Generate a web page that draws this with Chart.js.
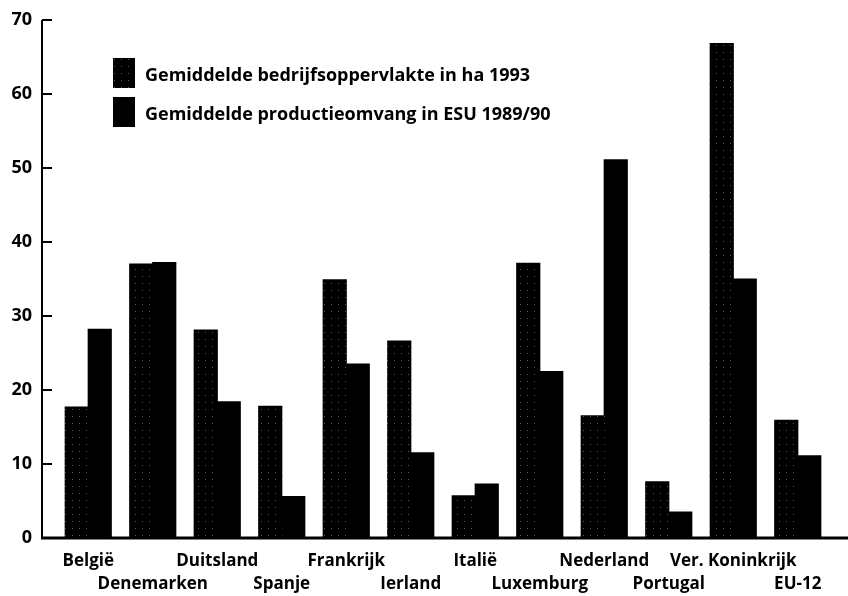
<!DOCTYPE html>
<html>
<head>
<meta charset="utf-8">
<script src="https://cdn.jsdelivr.net/npm/chart.js@4/dist/chart.umd.min.js"></script>
<style>
  html, body { margin: 0; padding: 0; background: #fff; }
  #wrap { width: 848px; height: 596px; }
</style>
</head>
<body>
<div id="wrap"><canvas id="barChart"></canvas></div>
<script>
// categories (staggered on two rows like the original)
var countries = ["België","Denemarken","Duitsland","Spanje","Frankrijk","Ierland",
                 "Italië","Luxemburg","Nederland","Portugal","Ver. Koninkrijk","EU-12"];
var seriesNames = ["Gemiddelde bedrijfsoppervlakte in ha 1993",
                   "Gemiddelde productieomvang in ESU 1989/90"];
var oppervlakte = [17.7, 37.0, 28.1, 17.8, 34.9, 26.6, 5.7, 37.1, 16.5, 7.6, 66.8, 15.9];
var productie   = [28.2, 37.2, 18.4, 5.6, 23.5, 11.5, 7.3, 22.5, 51.1, 3.5, 35.0, 11.1];
var yTicks = [0, 10, 20, 30, 40, 50, 60, 70];

var FONT = "'Open Sans', 'DejaVu Sans', sans-serif";

// almost black fill with sparse specks for the first series
function speckle() {
  var c = document.createElement("canvas");
  c.width = 7; c.height = 7;
  var g = c.getContext("2d");
  g.fillStyle = "#000";
  g.fillRect(0, 0, 7, 7);
  g.fillStyle = "#5a5a5a";
  g.fillRect(2, 3, 1, 1);
  return g.createPattern(c, "repeat");
}
var dotted = speckle();

// two-row labels: even ones on the first row, odd ones on the second
var labels = countries.map(function (c, i) { return i % 2 === 0 ? [c] : ["", c]; });

// axes drawn like the print: y line left of the first group, ticks pointing inward
var axesPlugin = {
  id: "printAxes",
  afterDatasetsDraw: function (chart) {
    var ctx = chart.ctx, ca = chart.chartArea, y = chart.scales.y;
    var ax = ca.left - 14;
    ctx.save();
    ctx.strokeStyle = "#000";
    ctx.lineWidth = 2;
    ctx.beginPath();
    ctx.moveTo(ax, y.getPixelForValue(70));
    ctx.lineTo(ax, y.getPixelForValue(0));
    yTicks.forEach(function (v) {
      var py = y.getPixelForValue(v);
      ctx.moveTo(ax, py);
      ctx.lineTo(ax + 10, py);
    });
    ctx.stroke();
    ctx.lineWidth = 3;
    ctx.beginPath();
    ctx.moveTo(ax - 1, y.getPixelForValue(0));
    ctx.lineTo(chart.width, y.getPixelForValue(0));
    ctx.stroke();
    ctx.restore();
  }
};

// legend inside the plot area
var legendPlugin = {
  id: "innerLegend",
  afterDraw: function (chart) {
    var ctx = chart.ctx, ca = chart.chartArea;
    ctx.save();
    ctx.font = "bold 18px " + FONT;
    ctx.textBaseline = "middle";
    chart.data.datasets.forEach(function (ds, i) {
      var bx = ca.left + 57, by = ca.top + 38 + i * 39;
      ctx.fillStyle = ds.backgroundColor;
      ctx.fillRect(bx, by, 22, 30);
      ctx.fillStyle = "#000";
      ctx.fillText(ds.label, bx + 32, by + 18);
    });
    ctx.restore();
  }
};

var ctx = document.getElementById("barChart").getContext("2d");
var chart = new Chart(ctx, {
  type: "bar",
  data: {
    labels: labels,
    datasets: [
      { label: seriesNames[0], data: oppervlakte, backgroundColor: dotted, borderWidth: 0 },
      { label: seriesNames[1], data: productie, backgroundColor: "#000", borderWidth: 0 }
    ]
  },
  options: {
    responsive: true,
    maintainAspectRatio: false,
    animation: false,
    layout: { padding: { top: 20, right: 18, left: 0, bottom: 0 } },
    datasets: { bar: { categoryPercentage: 0.713, barPercentage: 1.0, inflateAmount: 0.6 } },
    plugins: { legend: { display: false }, tooltip: { enabled: false } },
    scales: {
      x: {
        grid: { display: false, drawTicks: false },
        border: { display: false },
        ticks: {
          color: "#000",
          font: { family: FONT, size: 17, weight: "bold", lineHeight: 1.35 },
          padding: 12,
          maxRotation: 0,
          autoSkip: false
        },
        afterFit: function (s) { s.height = 58; }
      },
      y: {
        min: 0,
        max: 70,
        grid: { display: false, drawTicks: false },
        border: { display: false },
        afterBuildTicks: function (s) { s.ticks = yTicks.map(function (v) { return { value: v }; }); },
        ticks: {
          color: "#000",
          font: { family: FONT, size: 18, weight: "bold" },
          padding: 24
        },
        afterFit: function (s) {
          s.width = 56;
          s.paddingTop = 0;
          s.paddingBottom = 0;
        }
      }
    }
  },
  plugins: [axesPlugin, legendPlugin]
});
</script>
</body>
</html>
